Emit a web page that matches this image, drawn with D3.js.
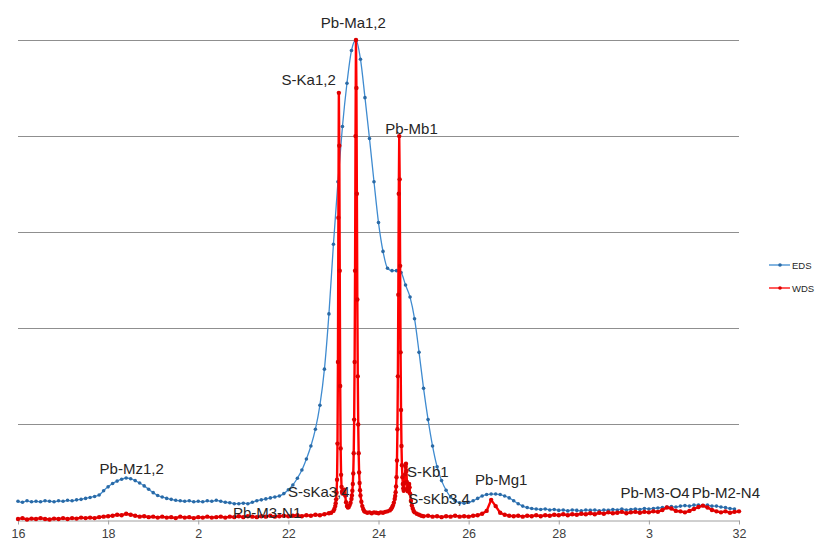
<!DOCTYPE html>
<html>
<head>
<meta charset="utf-8">
<script src="https://cdn.jsdelivr.net/npm/d3@7/dist/d3.min.js"></script>
<style>
  html, body { margin: 0; padding: 0; background: #ffffff; }
  svg { display: block; }
</style>
</head>
<body>
<svg id="chart" width="819" height="541"></svg>
<script>
// ---------- DATA ----------
const xTicks = [1.6, 1.8, 2.0, 2.2, 2.4, 2.6, 2.8, 3.0, 3.2];
const xTickLabels = ["16", "18", "2", "22", "24", "26", "28", "3", "32"];
const yGrid = [20, 40, 60, 80, 100];

// EDS spectrum, sampled every 0.01 keV from 1.60
const edsStart = 1.60, edsStep = 0.01;
const edsCounts = [
  4.0, 3.8, 4.1, 3.9, 4.0, 3.9, 4.1, 4.0, 3.9, 4.1,
  4.0, 4.2, 4.1, 4.3, 4.4, 4.6, 4.8, 5.0, 5.3, 6.2,
  7.0, 7.7, 8.2, 8.6, 8.85, 8.7, 8.3, 7.8, 7.2, 6.5,
  5.8, 5.2, 4.9, 4.6, 4.4, 4.2, 4.1, 4.0, 4.1, 3.9,
  4.0, 3.9, 4.1, 4.0, 4.2, 4.0, 3.8, 3.7, 3.5, 3.5,
  3.6, 3.5, 3.8, 4.1, 4.3, 4.5, 4.7, 4.9, 5.1, 5.6,
  6.4, 7.4, 8.8, 10.5, 12.8, 15.5, 19.0, 24.0, 31.5, 43.0,
  57.5, 70.5, 82.0, 91.0, 97.8, 100.0, 96.0, 88.0, 79.5, 70.5,
  62.0, 56.0, 52.5, 52.0, 52.0, 51.6, 49.0, 46.5, 42.0, 35.0,
  27.5, 21.0, 15.5, 11.2, 8.3, 6.3, 4.9, 4.1, 3.7, 3.6,
  3.8, 4.1, 4.6, 5.1, 5.4, 5.5, 5.5, 5.4, 5.1, 4.7,
  4.1, 3.5, 3.0, 2.7, 2.5, 2.4, 2.3, 2.4, 2.2, 2.3,
  2.1, 2.2, 2.0, 2.2, 2.1, 2.0, 2.2, 2.1, 2.2, 2.0,
  2.2, 2.1, 2.3, 2.2, 2.4, 2.2, 2.3, 2.4, 2.3, 2.5,
  2.4, 2.5, 2.6, 2.7, 2.8, 2.9, 2.8, 3.0, 3.1, 3.0,
  3.2, 3.2, 3.1, 3.2, 3.0, 3.0, 2.8, 2.7, 2.5, 2.4
];

// WDS spectrum: low-energy baseline (0.01 keV steps from 1.60)
const wdsLeftStart = 1.60, wdsLeftStep = 0.01;
const wdsLeftCounts = [
  0.3, 0.5, 0.2, 0.4, 0.3, 0.5, 0.3, 0.2, 0.4, 0.3,
  0.5, 0.3, 0.5, 0.4, 0.6, 0.5, 0.6, 0.5, 0.7, 0.8,
  0.9, 1.0, 1.2, 1.1, 1.4, 1.2, 1.0, 0.8, 0.9, 0.7,
  0.8, 0.6, 0.8, 0.6, 0.7, 0.5, 0.8, 0.6, 0.7, 0.5,
  0.7, 0.6, 0.8, 0.6, 0.7, 0.8, 0.6, 0.8, 0.7, 0.9,
  0.7, 0.9, 0.8, 0.7, 0.9, 0.8, 1.0, 0.8, 0.9, 1.0,
  0.9, 1.0, 1.1, 0.9, 1.1, 1.0, 1.2, 1.1, 1.3, 1.5
];
// WDS peak region (fine steps)
const wdsPeakEnergy = [
  2.295, 2.300, 2.302, 2.304, 2.305, 2.306, 2.307, 2.308, 2.309, 2.310,
  2.311, 2.312, 2.313, 2.314, 2.315, 2.316, 2.317, 2.318, 2.319, 2.320,
  2.322, 2.324, 2.326, 2.328, 2.330, 2.332, 2.334, 2.336, 2.338, 2.340,
  2.341, 2.342, 2.343, 2.344, 2.345, 2.346, 2.347, 2.348, 2.349, 2.350,
  2.351, 2.352, 2.353, 2.354, 2.355, 2.356, 2.357, 2.358, 2.359, 2.360,
  2.362, 2.364, 2.366, 2.368, 2.370, 2.375, 2.380, 2.385, 2.390, 2.395,
  2.400, 2.405, 2.410, 2.415, 2.420, 2.425, 2.428, 2.430, 2.432, 2.434,
  2.436, 2.437, 2.438, 2.439, 2.440, 2.441, 2.442, 2.443, 2.444, 2.445,
  2.446, 2.447, 2.448, 2.449, 2.450, 2.451, 2.452, 2.453, 2.454, 2.455,
  2.456, 2.457, 2.458, 2.459, 2.460, 2.461, 2.462, 2.463, 2.464, 2.465,
  2.466, 2.467, 2.468, 2.469, 2.470, 2.472, 2.474, 2.476, 2.478, 2.480,
  2.485, 2.490, 2.495
];
const wdsPeakCounts = [
  1.6, 2.0, 2.4, 3.0, 3.6, 4.4, 5.8, 8.5, 16, 33,
  63, 89, 78, 52, 28, 15, 9.5, 7.0, 6.0, 5.6,
  5.9, 6.4, 5.2, 3.8, 3.0, 2.7, 2.8, 3.2, 3.7, 4.5,
  5.2, 6.2, 7.6, 9.8, 14, 21, 33, 52, 80, 100,
  90, 68, 46, 30, 20, 14, 10, 7.8, 6.3, 5.2,
  3.9, 3.0, 2.4, 2.0, 1.8, 1.6, 1.7, 1.5, 1.7, 1.6,
  1.5, 1.7, 1.6, 1.8, 1.9, 2.1, 2.4, 2.7, 3.1, 3.7,
  4.5, 5.1, 5.9, 7.1, 9.0, 12.5, 19, 30, 47, 68,
  80, 71, 53, 35, 23, 15.5, 11.5, 9.0, 7.6, 6.7,
  6.2, 6.5, 7.8, 9.6, 11.2, 11.8, 10.3, 8.0, 6.6, 6.1,
  6.6, 7.3, 7.6, 6.9, 5.6, 4.1, 3.1, 2.5, 2.0, 1.7,
  1.4, 1.2, 1.0
];
// WDS high-energy baseline (0.01 keV steps from 2.50)
const wdsRightStart = 2.50, wdsRightStep = 0.01;
const wdsRightCounts = [
  0.9, 1.0, 0.8, 0.9, 0.7, 0.9, 0.8, 1.0, 0.8, 0.9,
  0.8, 1.0, 1.1, 1.4, 2.0, 4.3, 3.0, 1.6, 1.2, 1.0,
  0.9, 1.0, 0.8, 1.0, 0.9, 1.1, 0.9, 1.1, 1.0, 1.2,
  1.1, 1.3, 1.1, 1.3, 1.2, 1.4, 1.3, 1.5, 1.3, 1.6,
  1.4, 1.7, 1.5, 1.6, 1.8, 1.5, 1.7, 1.8, 1.6, 1.8,
  1.7, 1.9, 1.8, 2.2, 2.7, 2.5, 2.0, 1.9, 1.7, 2.0,
  2.4, 2.8, 3.1, 2.7, 2.2, 1.9, 1.7, 1.9, 1.6, 1.8,
  1.9
];

// Peak annotations
const peakLabels = ["Pb-Ma1,2", "S-Ka1,2", "Pb-Mb1", "Pb-Mz1,2", "S-sKa3,4", "Pb-M3-N1",
                    "S-Kb1", "S-sKb3,4", "Pb-Mg1", "Pb-M3-O4", "Pb-M2-N4"];
const peakLabelEnergy = [2.272, 2.185, 2.415, 1.781, 2.199, 2.077, 2.463, 2.466, 2.614, 2.937, 3.095];
const peakLabelCounts = [102.6, 90.6, 80.4, 9.6, 4.9, 0.6, 9.0, 3.5, 7.3, 4.6, 4.6];

const seriesNames = ["EDS", "WDS"];
const seriesColors = ["#3f8bd0", "#ff0000"];
const markerColors = ["#2a6aa6", "#dd0000"];

// ---------- BUILD ----------
const eds = edsCounts.map((v, i) => ({ x: edsStart + i * edsStep, y: v }));
const wds = []
  .concat(wdsLeftCounts.map((v, i) => ({ x: wdsLeftStart + i * wdsLeftStep, y: v })))
  .concat(wdsPeakEnergy.map((e, i) => ({ x: e, y: wdsPeakCounts[i] })))
  .concat(wdsRightCounts.map((v, i) => ({ x: wdsRightStart + i * wdsRightStep, y: v })));

const svg = d3.select("#chart");
const x = d3.scaleLinear().domain([1.6, 3.2]).range([18, 739]);
const y = d3.scaleLinear().domain([0, 100]).range([520.5, 40]);

// gridlines
svg.append("g").selectAll("line").data(yGrid).join("line")
  .attr("x1", x(1.6)).attr("x2", x(3.2))
  .attr("y1", d => Math.round(y(d)) + 0.5).attr("y2", d => Math.round(y(d)) + 0.5)
  .attr("stroke", "#8f8f8f").attr("stroke-width", 1);

// x axis
const xAxis = d3.axisBottom(x).tickValues(xTicks)
  .tickFormat((d, i) => xTickLabels[i]).tickSize(4).tickSizeOuter(0);
const gx = svg.append("g").attr("transform", `translate(0,${y(0)})`).call(xAxis);
gx.select(".domain").attr("stroke", "#a0a0a0");
gx.selectAll(".tick line").attr("stroke", "#a0a0a0");
gx.selectAll(".tick text")
  .attr("font-family", "'Liberation Sans', Arial, sans-serif")
  .attr("font-size", 12.5).attr("fill", "#404040")
  .attr("y", 17.3).attr("dy", 0);

// EDS
const edsLine = d3.line().x(d => x(d.x)).y(d => y(d.y)).curve(d3.curveMonotoneX);
svg.append("path").datum(eds).attr("d", edsLine)
  .attr("fill", "none").attr("stroke", seriesColors[0]).attr("stroke-width", 1.3);
svg.append("g").selectAll("circle").data(eds).join("circle")
  .attr("cx", d => x(d.x)).attr("cy", d => y(d.y)).attr("r", 1.8)
  .attr("fill", markerColors[0]);

// WDS
const wdsLine = d3.line().x(d => x(d.x)).y(d => y(d.y));
svg.append("path").datum(wds).attr("d", wdsLine)
  .attr("fill", "none").attr("stroke", seriesColors[1]).attr("stroke-width", 2.4)
  .attr("stroke-linejoin", "round");
svg.append("g").selectAll("circle").data(wds).join("circle")
  .attr("cx", d => x(d.x)).attr("cy", d => y(d.y)).attr("r", 2.2)
  .attr("fill", markerColors[1]);

// peak labels
svg.append("g").selectAll("text").data(peakLabels).join("text")
  .attr("x", (d, i) => x(peakLabelEnergy[i]))
  .attr("y", (d, i) => y(peakLabelCounts[i]))
  .text(d => d)
  .attr("font-family", "'Liberation Sans', Arial, sans-serif")
  .attr("font-size", 15).attr("fill", "#262626");

// legend
const legend = svg.append("g");
seriesNames.forEach((name, i) => {
  const ly = 265 + i * 23;
  legend.append("line").attr("x1", 769).attr("x2", 790).attr("y1", ly).attr("y2", ly)
    .attr("stroke", seriesColors[i]).attr("stroke-width", 1.3);
  legend.append("circle").attr("cx", 780).attr("cy", ly).attr("r", 1.8).attr("fill", markerColors[i]);
  legend.append("text").attr("x", 792).attr("y", ly + 3.5).text(name)
    .attr("font-family", "'Liberation Sans', Arial, sans-serif")
    .attr("font-size", 9.5).attr("fill", "#262626");
});
</script>
</body>
</html>
